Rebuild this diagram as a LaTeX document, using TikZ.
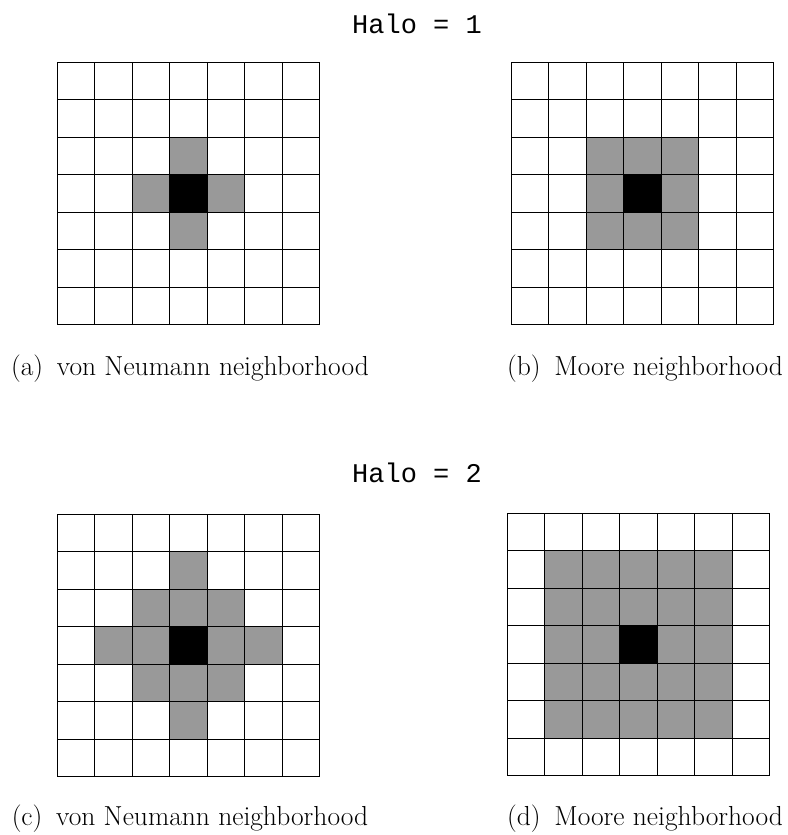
\documentclass[tikz,border=0pt]{standalone}
\usepackage{fontspec}
\setmonofont{Liberation Mono}
\definecolor{haloGray}{gray}{0.6}
\tikzset{
  halo/.style={fill=haloGray},
  centercell/.style={fill=black},
  gridline/.style={line width=0.9pt, black},
  titletext/.style={font=\fontsize{27}{30}\selectfont\ttfamily, inner sep=0pt},
  captext/.style={font=\fontsize{27.5}{30}\selectfont, inner sep=0pt},
}
\newcommand{\mygridlines}{%
  \foreach \k in {0,...,7} {
    \draw[gridline, line cap=rect] (\k,0) -- (\k,7);
    \draw[gridline, line cap=rect] (0,\k) -- (7,\k);
  }%
}
\begin{document}
\begin{tikzpicture}[x=1pt, y=-1pt]
\useasboundingbox (0,0) rectangle (787,835);
\fill[white] (0,0) rectangle (787,835);

% titles
\node[titletext] (t1) at (417,24) {Halo = 1};
\node[titletext] (t2) at (417,473) {Halo = 2};

% (a) von Neumann, halo 1
\begin{scope}[shift={(57,62)}, x=37.5pt, y=-37.5pt]
  \fill[halo] (3,2) rectangle (4,5);
  \fill[halo] (2,3) rectangle (5,4);
  \fill[centercell] (3,3) rectangle (4,4);
  \mygridlines
\end{scope}

% (b) Moore, halo 1
\begin{scope}[shift={(511,62)}, x=37.5pt, y=-37.5pt]
  \fill[halo] (2,2) rectangle (5,5);
  \fill[centercell] (3,3) rectangle (4,4);
  \mygridlines
\end{scope}

% (c) von Neumann, halo 2
\begin{scope}[shift={(57,514)}, x=37.5pt, y=-37.5pt]
  \fill[halo] (3,1) rectangle (4,6);
  \fill[halo] (2,2) rectangle (5,5);
  \fill[halo] (1,3) rectangle (6,4);
  \fill[centercell] (3,3) rectangle (4,4);
  \mygridlines
\end{scope}

% (d) Moore, halo 2
\begin{scope}[shift={(507,513)}, x=37.5pt, y=-37.5pt]
  \fill[halo] (1,1) rectangle (6,6);
  \fill[centercell] (3,3) rectangle (4,4);
  \mygridlines
\end{scope}

% captions
\node[captext] (ca) at (190,369) {(a)\hspace{0.5em}von Neumann neighborhood};
\node[captext] (cb) at (645,369) {(b)\hspace{0.5em}Moore neighborhood};
\node[captext] (cc) at (190,819) {(c)\hspace{0.5em}von Neumann neighborhood};
\node[captext] (cd) at (645,819) {(d)\hspace{0.5em}Moore neighborhood};
\end{tikzpicture}
\end{document}
